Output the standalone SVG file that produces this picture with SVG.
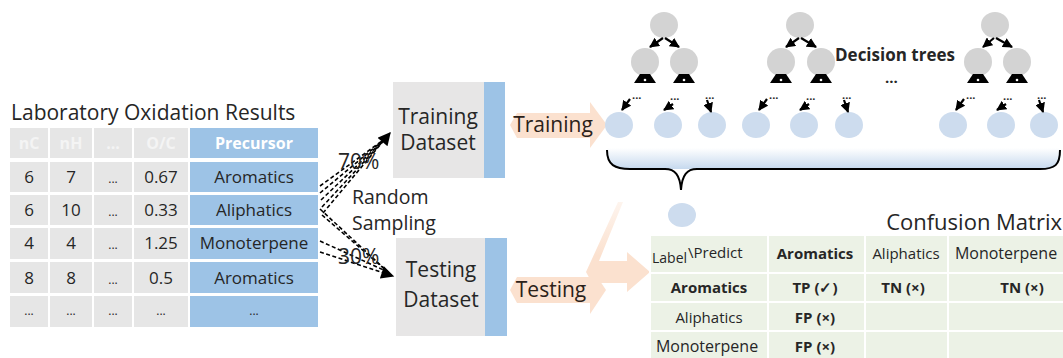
<svg xmlns="http://www.w3.org/2000/svg" width="1063" height="358" viewBox="0 0 1063 358">
<defs>
<style>
text{font-family:"Open Sans","Noto Sans","Liberation Sans",sans-serif;fill:#262626}
.t{font-size:17px;text-anchor:middle}
.hd{font-size:16px;font-weight:bold;text-anchor:middle;fill:#f4f4f4}
.g{fill:#e6e6e6}
.b{fill:#9dc3e6}
.big{font-size:21px}
.mid{text-anchor:middle}
.node{fill:#d3d3d3}
.leaf{fill:#cddcee}
.dash{stroke:#000;stroke-width:1.6;stroke-dasharray:4 2.5;fill:none}
.tr{stroke:#000;stroke-width:2.2;fill:none}
.orange{fill:#fbe1cf}
.cell{fill:#ecf2e6;stroke:#fff;stroke-width:2}
.m{font-size:15px;text-anchor:middle}
.mb{font-size:15px;text-anchor:middle;font-weight:bold}
.dots{font-size:11px;font-weight:bold}
</style>
<marker id="ah" viewBox="0 0 10 10" refX="9" refY="5" markerWidth="16" markerHeight="13" markerUnits="userSpaceOnUse" orient="auto"><path d="M0,0 L10,5 L0,10 Z" fill="#000"/></marker>
<marker id="sh" viewBox="0 0 10 10" refX="9" refY="5" markerWidth="10" markerHeight="10" markerUnits="userSpaceOnUse" orient="auto"><path d="M0,0 L10,5 L0,10 Z" fill="#000"/></marker>
<linearGradient id="band" x1="0" y1="0" x2="0" y2="1"><stop offset="0" stop-color="#ffffff"/><stop offset="1" stop-color="#c6d9ee"/></linearGradient>
<linearGradient id="fade" x1="0" y1="0" x2="0" y2="1"><stop offset="0" stop-color="#fbe1cf" stop-opacity="0.35"/><stop offset="0.6" stop-color="#fbe1cf" stop-opacity="1"/></linearGradient>
</defs>

<g id="table">
<text x="11" y="120" class="big">Laboratory Oxidation Results</text>
<rect class="g" x="10" y="128" width="38" height="30"/><rect class="g" x="50" y="128" width="42" height="30"/><rect class="g" x="94" y="128" width="38" height="30"/><rect class="g" x="134" y="128" width="54" height="30"/><rect class="b" x="190" y="128" width="128" height="30"/>
<rect class="g" x="10" y="162" width="38" height="30"/><rect class="g" x="50" y="162" width="42" height="30"/><rect class="g" x="94" y="162" width="38" height="30"/><rect class="g" x="134" y="162" width="54" height="30"/><rect class="b" x="190" y="162" width="128" height="30"/>
<rect class="g" x="10" y="195" width="38" height="30"/><rect class="g" x="50" y="195" width="42" height="30"/><rect class="g" x="94" y="195" width="38" height="30"/><rect class="g" x="134" y="195" width="54" height="30"/><rect class="b" x="190" y="195" width="128" height="30"/>
<rect class="g" x="10" y="228" width="38" height="31"/><rect class="g" x="50" y="228" width="42" height="31"/><rect class="g" x="94" y="228" width="38" height="31"/><rect class="g" x="134" y="228" width="54" height="31"/><rect class="b" x="190" y="228" width="128" height="31"/>
<rect class="g" x="10" y="262" width="38" height="31"/><rect class="g" x="50" y="262" width="42" height="31"/><rect class="g" x="94" y="262" width="38" height="31"/><rect class="g" x="134" y="262" width="54" height="31"/><rect class="b" x="190" y="262" width="128" height="31"/>
<rect class="g" x="10" y="296" width="38" height="31"/><rect class="g" x="50" y="296" width="42" height="31"/><rect class="g" x="94" y="296" width="38" height="31"/><rect class="g" x="134" y="296" width="54" height="31"/><rect class="b" x="190" y="296" width="128" height="31"/>
<text class="hd" x="29" y="149">nC</text><text class="hd" x="71" y="149">nH</text><text class="hd" x="113" y="149">...</text><text class="hd" x="161" y="149">O/C</text><text class="hd" x="254" y="149" style="fill:#fff">Precursor</text>
<text class="t" x="29" y="183">6</text><text class="t" x="71" y="183">7</text><text class="t" x="113" y="183" style="font-size:12px">...</text><text class="t" x="161" y="183">0.67</text><text class="t" x="254" y="183">Aromatics</text>
<text class="t" x="29" y="216">6</text><text class="t" x="71" y="216">10</text><text class="t" x="113" y="216" style="font-size:12px">...</text><text class="t" x="161" y="216">0.33</text><text class="t" x="254" y="216">Aliphatics</text>
<text class="t" x="29" y="249">4</text><text class="t" x="71" y="249">4</text><text class="t" x="113" y="249" style="font-size:12px">...</text><text class="t" x="161" y="249">1.25</text><text class="t" x="254" y="249">Monoterpene</text>
<text class="t" x="29" y="284">8</text><text class="t" x="71" y="284">8</text><text class="t" x="113" y="284" style="font-size:12px">...</text><text class="t" x="161" y="284">0.5</text><text class="t" x="254" y="284">Aromatics</text>
<text class="t" x="29" y="315" style="font-size:12px">...</text><text class="t" x="71" y="315" style="font-size:12px">...</text><text class="t" x="113" y="315" style="font-size:12px">...</text><text class="t" x="161" y="315" style="font-size:12px">...</text><text class="t" x="254" y="315" style="font-size:12px">...</text>
</g>

<g id="connectors">
<line class="dash" x1="320" y1="186" x2="386" y2="138"/>
<line class="dash" x1="320" y1="193" x2="386" y2="138"/>
<line class="dash" x1="321" y1="200" x2="386" y2="138"/>
<line class="dash" x1="322" y1="207" x2="386" y2="138"/>
<line class="dash" x1="323" y1="213" x2="390" y2="133" marker-end="url(#ah)"/>
<line class="dash" x1="320" y1="209" x2="388" y2="272"/>
<line class="dash" x1="322" y1="215" x2="388" y2="272"/>
<line class="dash" x1="320" y1="241" x2="388" y2="272"/>
<line class="dash" x1="320" y1="252" x2="393" y2="276" marker-end="url(#ah)"/>
</g>

<g id="labels">
<text x="338" y="169" class="big">70%</text>
<text style="font-size:19.5px"><tspan x="352" y="204">Random</tspan><tspan x="352" y="230">Sampling</tspan></text>
<text x="338" y="264" class="big">30%</text>
</g>

<g id="training-dataset">
<rect x="393" y="82" width="91" height="96" fill="#e7e6e6"/>
<rect x="484" y="82" width="21" height="96" fill="#9dc3e6"/>
<text x="438" y="124" class="big mid">Training</text>
<text x="438" y="150" class="big mid">Dataset</text>
</g>

<g id="testing-dataset">
<rect x="396" y="238" width="89" height="98" fill="#e7e6e6"/>
<rect x="485" y="238" width="22" height="98" fill="#9dc3e6"/>
<text x="441" y="277" class="big mid">Testing</text>
<text x="441" y="307" class="big mid">Dataset</text>
</g>

<g id="training-arrow">
<polygon class="orange" points="510,125 517,113 590,113 590,102 607,125 590,148 590,138 517,138"/>
<text x="553" y="132" class="big mid" style="fill:#2b2119">Training</text>
</g>

<g id="testing-arrow">
<polygon class="orange" points="510,290 517,277 590,277 590,266 606,290 590,314 590,303 517,303"/>
<text x="551" y="297" class="big mid" style="fill:#2b2119">Testing</text>
</g>

<g id="result-arrow">
<polygon fill="url(#fade)" points="618,202 623,202 599,261 627,261 627,252 650,272 627,292 627,283 592,283 586,272"/>
</g>

<g id="tree1">
<ellipse class="node" cx="664" cy="25" rx="14" ry="13"/>
<ellipse class="node" cx="645" cy="62" rx="14" ry="14"/>
<ellipse class="node" cx="684" cy="62" rx="14" ry="14"/>
<path class="tr" d="M663,38 L650,47" marker-end="url(#sh)"/><path class="tr" d="M665,38 L679,47" marker-end="url(#sh)"/>
<polygon points="634,83 640,74 650,74 656,83" fill="#000"/><circle cx="645" cy="80" r="1.3" fill="#fff"/>
<polygon points="673,83 679,74 689,74 695,83" fill="#000"/><circle cx="684" cy="80" r="1.3" fill="#fff"/>
<ellipse class="leaf" cx="619" cy="125" rx="14" ry="13"/>
<ellipse class="leaf" cx="668" cy="125" rx="14" ry="13"/>
<ellipse class="leaf" cx="712" cy="125" rx="14" ry="13"/>
<path class="tr" d="M630,99 L622,110" marker-end="url(#sh)"/><text class="dots" x="632" y="99">...</text>
<path class="tr" d="M673,104 L664,110" marker-end="url(#sh)"/><text class="dots" x="670" y="100">...</text>
<path class="tr" d="M707,100 L711,112" marker-end="url(#sh)"/><text class="dots" x="705" y="99">...</text>
</g>

<g id="tree2">
<ellipse class="node" cx="800" cy="25" rx="14" ry="13"/>
<ellipse class="node" cx="781" cy="62" rx="14" ry="14"/>
<ellipse class="node" cx="821" cy="62" rx="14" ry="14"/>
<path class="tr" d="M799,38 L786,47" marker-end="url(#sh)"/><path class="tr" d="M801,38 L816,47" marker-end="url(#sh)"/>
<polygon points="770,83 776,74 786,74 792,83" fill="#000"/><circle cx="781" cy="80" r="1.3" fill="#fff"/>
<polygon points="810,83 816,74 826,74 832,83" fill="#000"/><circle cx="821" cy="80" r="1.3" fill="#fff"/>
<ellipse class="leaf" cx="756" cy="125" rx="14" ry="13"/>
<ellipse class="leaf" cx="804" cy="125" rx="14" ry="13"/>
<ellipse class="leaf" cx="849" cy="125" rx="14" ry="13"/>
<path class="tr" d="M767,99 L759,110" marker-end="url(#sh)"/><text class="dots" x="769" y="99">...</text>
<path class="tr" d="M809,104 L800,110" marker-end="url(#sh)"/><text class="dots" x="806" y="100">...</text>
<path class="tr" d="M844,100 L848,112" marker-end="url(#sh)"/><text class="dots" x="842" y="99">...</text>
</g>

<g id="tree3">
<ellipse class="node" cx="995" cy="25" rx="14" ry="13"/>
<ellipse class="node" cx="978" cy="62" rx="14" ry="14"/>
<ellipse class="node" cx="1017" cy="62" rx="14" ry="14"/>
<path class="tr" d="M994,38 L983,47" marker-end="url(#sh)"/><path class="tr" d="M996,38 L1012,47" marker-end="url(#sh)"/>
<polygon points="967,83 973,74 983,74 989,83" fill="#000"/><circle cx="978" cy="80" r="1.3" fill="#fff"/>
<polygon points="1006,83 1012,74 1022,74 1028,83" fill="#000"/><circle cx="1017" cy="80" r="1.3" fill="#fff"/>
<ellipse class="leaf" cx="953" cy="125" rx="14" ry="13"/>
<ellipse class="leaf" cx="1001" cy="125" rx="14" ry="13"/>
<ellipse class="leaf" cx="1044" cy="125" rx="14" ry="13"/>
<path class="tr" d="M964,99 L956,110" marker-end="url(#sh)"/><text class="dots" x="966" y="99">...</text>
<path class="tr" d="M1006,104 L997,110" marker-end="url(#sh)"/><text class="dots" x="1003" y="100">...</text>
<path class="tr" d="M1039,100 L1043,112" marker-end="url(#sh)"/><text class="dots" x="1037" y="99">...</text>
</g>

<g id="trees-label">
<text x="835" y="61" style="font-size:17px;font-weight:bold">Decision trees</text>
<text x="885" y="83" style="font-size:15px;font-weight:bold">...</text>
</g>

<g id="ensemble">
<path d="M607,148 L1060,148 L1060,150 C1060,165 1055,169 1040,169 L630,169 C615,169 607,165 607,150 Z" fill="url(#band)"/>
<path d="M607,150 C607,165 615,169 630,169 L665,169 C675,169 680,175 681,190 C682,175 687,169 697,169 L1040,169 C1055,169 1060,165 1060,150" fill="none" stroke="#000" stroke-width="2"/>
<ellipse class="leaf" cx="682" cy="215" rx="14" ry="12"/>
</g>

<g id="confusion-matrix">
<text x="1062" y="230" style="text-anchor:end;font-size:22px">Confusion Matrix</text>
<rect class="cell" x="650" y="235" width="118" height="38"/><rect class="cell" x="768" y="235" width="97" height="38"/><rect class="cell" x="865" y="235" width="83" height="38"/><rect class="cell" x="948" y="235" width="116" height="38"/>
<rect class="cell" x="650" y="273" width="118" height="29"/><rect class="cell" x="768" y="273" width="97" height="29"/><rect class="cell" x="865" y="273" width="83" height="29"/><rect class="cell" x="948" y="273" width="116" height="29"/>
<rect class="cell" x="650" y="302" width="118" height="29"/><rect class="cell" x="768" y="302" width="97" height="29"/><rect class="cell" x="865" y="302" width="83" height="29"/><rect class="cell" x="948" y="302" width="116" height="29"/>
<rect class="cell" x="650" y="331" width="118" height="29"/><rect class="cell" x="768" y="331" width="97" height="29"/><rect class="cell" x="865" y="331" width="83" height="29"/><rect class="cell" x="948" y="331" width="116" height="29"/>
<text x="652" y="263" style="font-size:14px">Label</text><text x="688" y="258" style="font-size:15px">\Predict</text>
<text class="mb" x="815" y="259">Aromatics</text><text class="m" x="906" y="259">Aliphatics</text><text class="m" x="1006" y="259" style="font-size:16px">Monoterpene</text>
<text class="mb" x="709" y="293">Aromatics</text><text class="mb" x="815" y="293">TP (✓)</text><text class="mb" x="903" y="293">TN (×)</text><text class="mb" x="1022" y="293">TN (×)</text>
<text class="m" x="709" y="323">Aliphatics</text><text class="mb" x="815" y="323">FP (×)</text>
<text class="m" x="707" y="352" style="font-size:16px">Monoterpene</text><text class="mb" x="815" y="352">FP (×)</text>
</g>
</svg>
